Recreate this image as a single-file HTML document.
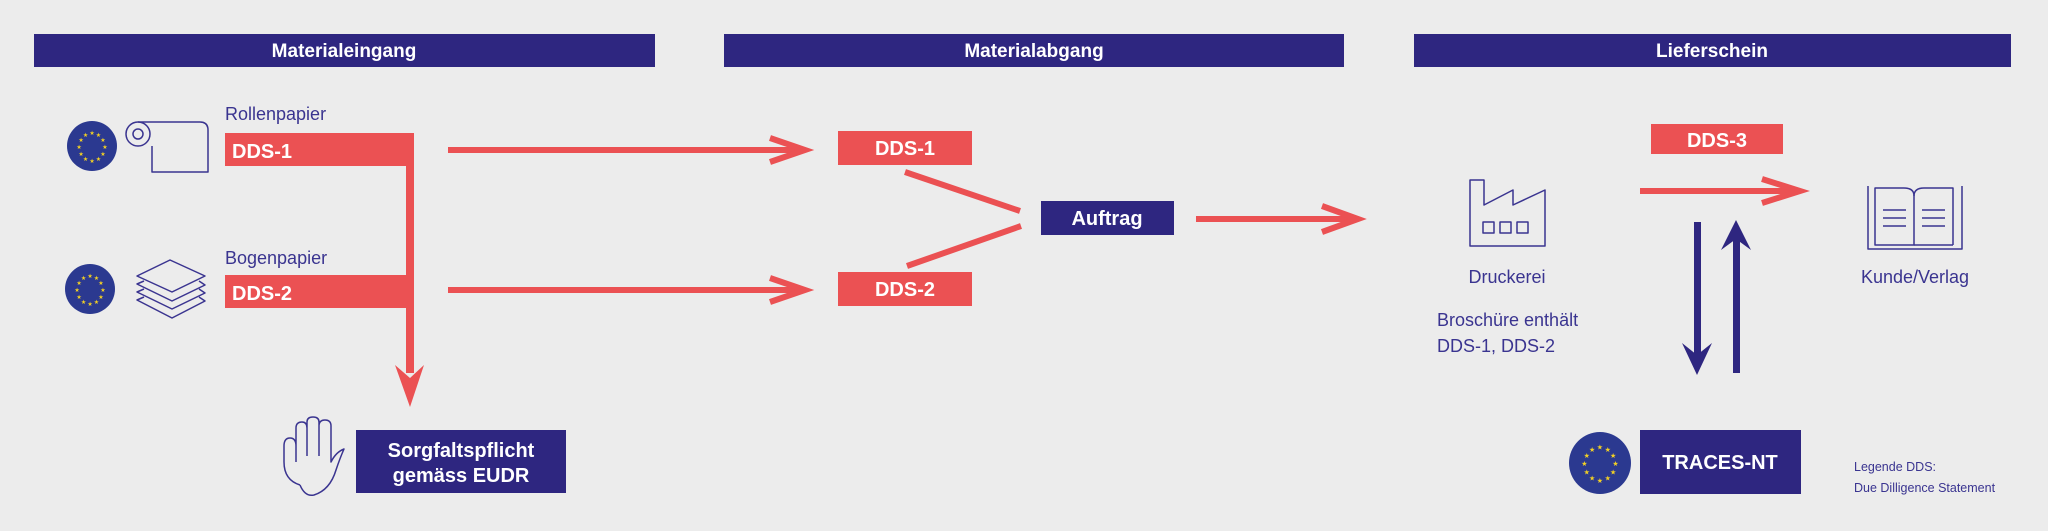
<!DOCTYPE html>
<html><head><meta charset="utf-8"><style>
html,body{margin:0;padding:0;background:#ececec;}
svg{display:block;}
text{font-family:"Liberation Sans",Arial,sans-serif;}
</style></head><body>
<svg width="2048" height="531" viewBox="0 0 2048 531" xmlns="http://www.w3.org/2000/svg">
<rect width="2048" height="531" fill="#ececec"/>
<!-- headers -->
<g fill="#2e2680">
<rect x="34" y="34" width="621" height="33"/>
<rect x="724" y="34" width="620" height="33"/>
<rect x="1414" y="34" width="597" height="33"/>
</g>
<g fill="#fff" font-weight="bold" font-size="19" text-anchor="middle">
<text x="344" y="57">Materialeingang</text>
<text x="1034" y="57">Materialabgang</text>
<text x="1712" y="57">Lieferschein</text>
</g>

<!-- EU circles -->
<g>
<circle cx="92" cy="146" r="25" fill="#2b3990"/>
<circle cx="90" cy="289" r="25" fill="#2b3990"/>
<circle cx="1600" cy="463" r="31" fill="#2b3990"/>
</g>
<g fill="#f2d024" font-size="6" text-anchor="middle">
<g transform="translate(92,148)">
<text x="0" y="-13">★</text><text x="6.5" y="-11">★</text><text x="11" y="-6">★</text><text x="13" y="1">★</text><text x="11" y="8">★</text><text x="6.5" y="13">★</text><text x="0" y="15">★</text><text x="-6.5" y="13">★</text><text x="-11" y="8">★</text><text x="-13" y="1">★</text><text x="-11" y="-6">★</text><text x="-6.5" y="-11">★</text>
</g>
<g transform="translate(90,291)">
<text x="0" y="-13">★</text><text x="6.5" y="-11">★</text><text x="11" y="-6">★</text><text x="13" y="1">★</text><text x="11" y="8">★</text><text x="6.5" y="13">★</text><text x="0" y="15">★</text><text x="-6.5" y="13">★</text><text x="-11" y="8">★</text><text x="-13" y="1">★</text><text x="-11" y="-6">★</text><text x="-6.5" y="-11">★</text>
</g>
<g transform="translate(1600,465) scale(1.2)">
<text x="0" y="-13">★</text><text x="6.5" y="-11">★</text><text x="11" y="-6">★</text><text x="13" y="1">★</text><text x="11" y="8">★</text><text x="6.5" y="13">★</text><text x="0" y="15">★</text><text x="-6.5" y="13">★</text><text x="-11" y="8">★</text><text x="-13" y="1">★</text><text x="-11" y="-6">★</text><text x="-6.5" y="-11">★</text>
</g>
</g>

<!-- icons stroke -->
<g fill="none" stroke="#3a3490" stroke-width="1.5" stroke-linejoin="round">
<!-- roll -->
<circle cx="138" cy="134" r="12"/>
<circle cx="138" cy="134" r="5"/>
<path d="M138 122 H200 Q208 122 208 130 V172 H152 V146"/>
<!-- sheets -->
<path d="M170 260 L205 276 L172 292 L137 276 Z"/>
<path d="M144 281 L137 284 L172 301 L205 285 L199 281"/>
<path d="M144 289 L137 292 L172 309 L205 293 L199 289"/>
<path d="M144 297 L137 300 L172 318 L205 301 L199 297"/>
<!-- hand -->
<path d="M300 485 Q284 480 284 462 V446 Q284 438 290 438 Q296 438 296 446 V462 M296 446 V428 Q296 422 302 422 Q307 422 307 428 V456 M307 428 V422 Q307 417 313 417 Q319 417 319 422 V456 M319 426 Q319 420 325 420 Q331 420 331 426 V462 Q336 452 344 449 Q340 458 336 470 Q330 490 314 495 Q305 497 300 485"/>
<!-- factory -->
<path d="M1470 246 V180 H1484 V205 L1513 190 V205 L1545 190 V246 Z"/>
<rect x="1483" y="222" width="11" height="11"/>
<rect x="1500" y="222" width="11" height="11"/>
<rect x="1517" y="222" width="11" height="11"/>
<!-- book -->
<path d="M1868 186 V249 H1962 V186"/>
<path d="M1875 245 V188 H1904 Q1914 188 1914 196 V245 Z"/>
<path d="M1953 245 V188 H1924 Q1914 188 1914 196"/>
<path d="M1953 245 H1914"/>
<path d="M1883 210 H1906 M1883 218 H1906 M1883 226 H1906 M1922 210 H1945 M1922 218 H1945 M1922 226 H1945"/>
</g>

<!-- labels -->
<g fill="#3a3490" font-size="18">
<text x="225" y="120">Rollenpapier</text>
<text x="225" y="264">Bogenpapier</text>
<text x="1507" y="283" text-anchor="middle">Druckerei</text>
<text x="1915" y="283" text-anchor="middle">Kunde/Verlag</text>
<text x="1437" y="326">Broschüre enthält</text>
<text x="1437" y="352">DDS-1, DDS-2</text>
<text x="1854" y="471" font-size="12.5">Legende DDS:</text>
<text x="1854" y="492" font-size="12.5">Due Dilligence Statement</text>
</g>

<!-- red flows -->
<g fill="#eb5153">
<rect x="225" y="133" width="189" height="33"/>
<rect x="225" y="275" width="189" height="33"/>
<rect x="406" y="133" width="8" height="240"/>
<path d="M395 365 L410 407 L424 365 L410 378 Z"/>
<rect x="838" y="131" width="134" height="34"/>
<rect x="838" y="272" width="134" height="34"/>
<rect x="1651" y="124" width="132" height="30"/>
</g>
<g stroke="#eb5153" fill="none" stroke-width="6">
<path d="M448 150 H800"/>
<path d="M770 138 L805 150 L770 162"/>
<path d="M448 290 H800"/>
<path d="M770 278 L805 290 L770 302"/>
<path d="M905 172 L1020 211"/>
<path d="M907 266 L1021 226"/>
<path d="M1196 219 H1354"/>
<path d="M1322 206 L1358 219 L1322 232"/>
<path d="M1640 191 H1796"/>
<path d="M1762 179 L1800 191 L1762 203"/>
</g>

<!-- navy arrows -->
<g fill="#2e2680">
<rect x="1694" y="222" width="7" height="135"/>
<path d="M1682 343 L1697 375 L1712 343 L1697 355 Z"/>
<rect x="1733" y="236" width="7" height="137"/>
<path d="M1721 250 L1736 220 L1751 250 L1736 239 Z"/>
<rect x="356" y="430" width="210" height="63"/>
<rect x="1041" y="201" width="133" height="34"/>
<rect x="1640" y="430" width="161" height="64"/>
</g>

<g fill="#fff" font-weight="bold" font-size="20">
<text x="232" y="158">DDS-1</text>
<text x="232" y="300">DDS-2</text>
<text x="905" y="155" text-anchor="middle">DDS-1</text>
<text x="905" y="296" text-anchor="middle">DDS-2</text>
<text x="1717" y="147" text-anchor="middle">DDS-3</text>
<text x="1107" y="225" text-anchor="middle">Auftrag</text>
<text x="1720" y="469" text-anchor="middle">TRACES-NT</text>
<text x="461" y="457" text-anchor="middle">Sorgfaltspflicht</text>
<text x="461" y="482" text-anchor="middle">gemäss EUDR</text>
</g>
</svg>
</body></html>
